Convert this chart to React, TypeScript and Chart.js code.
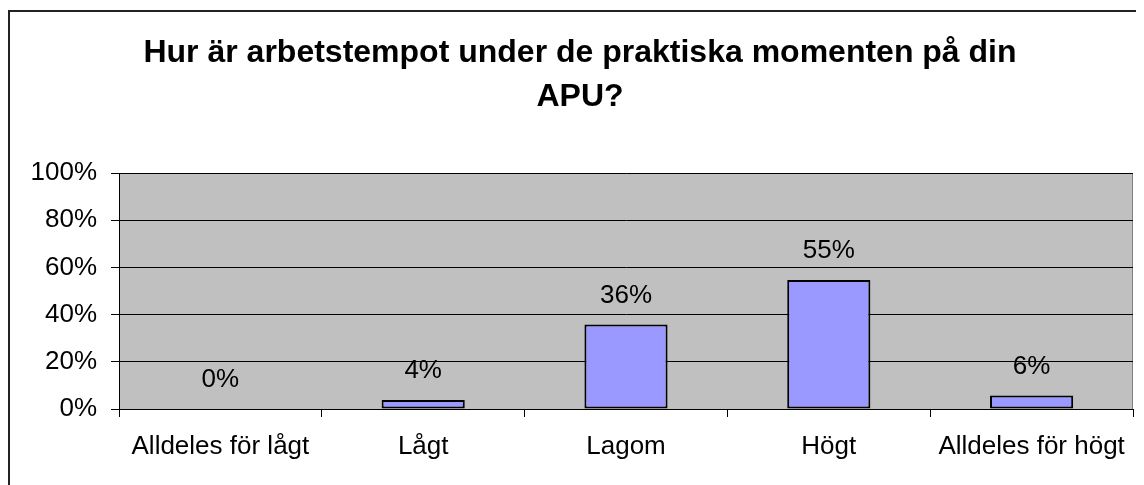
import React, { useEffect, useRef } from 'react';
import { Chart, registerables } from 'chart.js';

Chart.register(...registerables);

const TITLE_LINES = ['Hur är arbetstempot under de praktiska momenten på din', 'APU?'];
const CATEGORIES = ['Alldeles för lågt', 'Lågt', 'Lagom', 'Högt', 'Alldeles för högt'];
const VALUES = [0, 3.8, 35.8, 54.7, 5.7];
const VALUE_LABELS = ['0%', '4%', '36%', '55%', '6%'];
const Y_MIN = 0;
const Y_MAX = 100;
const Y_STEP = 20;

const FONT = "'Liberation Sans', Arial, Helvetica, sans-serif";

export default function App() {
  const canvasRef = useRef<HTMLCanvasElement | null>(null);

  useEffect(() => {
    document.documentElement.style.overflow = 'hidden';
    document.body.style.overflow = 'hidden';
    const canvas = canvasRef.current;
    if (!canvas) return;

    const plotBg = {
      id: 'plotBg',
      beforeDraw(chart: any) {
        const { ctx, chartArea } = chart;
        const { left, top, right, bottom } = chartArea;
        ctx.save();
        ctx.fillStyle = '#C0C0C0';
        ctx.fillRect(left, top, right - left, bottom - top);
        ctx.strokeStyle = '#808080';
        ctx.lineWidth = 1;
        ctx.strokeRect(Math.round(left) + 0.5, Math.round(top) + 0.5, Math.round(right - left) - 1, Math.round(bottom - top));
        ctx.restore();
      },
    };

    const valueLabels = {
      id: 'valueLabels',
      afterDatasetsDraw(chart: any) {
        const { ctx } = chart;
        const meta = chart.getDatasetMeta(0);
        ctx.save();
        ctx.fillStyle = '#000';
        ctx.font = `26px ${FONT}`;
        ctx.textAlign = 'center';
        ctx.textBaseline = 'middle';
        meta.data.forEach((bar: any, i: number) => {
          ctx.fillText(VALUE_LABELS[i], bar.x, bar.y - 29);
        });
        ctx.restore();
      },
    };

    const chart = new Chart(canvas, {
      type: 'bar',
      data: {
        labels: CATEGORIES,
        datasets: [
          {
            data: VALUES,
            backgroundColor: '#9999FF',
            borderColor: '#000000',
            borderWidth: 2,
            borderSkipped: false,
            barPercentage: 0.41,
            categoryPercentage: 1,
          },
        ],
      },
      options: {
        responsive: false,
        animation: false,
        devicePixelRatio: 1,
        layout: { padding: 0 },
        plugins: {
          legend: { display: false },
          tooltip: { enabled: false },
          title: {
            display: true,
            text: TITLE_LINES,
            color: '#000',
            font: { family: FONT, size: 32, weight: 'bold', lineHeight: '44px' },
            padding: { top: 23, bottom: 54 },
          },
        },
        scales: {
          x: {
            position: 'bottom',
            grid: {
              display: true,
              drawOnChartArea: false,
              drawTicks: true,
              tickLength: 8,
              color: '#000',
              offset: true,
            },
            border: { display: true, color: '#000', width: 1 },
            ticks: {
              color: '#000',
              font: { family: FONT, size: 26 },
              padding: 14,
              maxRotation: 0,
              autoSkip: false,
            },
            afterFit: (s: any) => {
              s.height = 76;
            },
          },
          y: {
            position: 'left',
            min: Y_MIN,
            max: Y_MAX,
            grid: {
              display: true,
              drawOnChartArea: true,
              drawTicks: true,
              tickLength: 8,
              color: '#000',
              lineWidth: 1,
            },
            border: { display: true, color: '#000', width: 1 },
            ticks: {
              stepSize: Y_STEP,
              color: '#000',
              font: { family: FONT, size: 26 },
              padding: 14,
              callback: (v: any) => `${v}%`,
            },
            afterFit: (s: any) => {
              s.width = 111;
            },
          },
          yRight: {
            type: 'linear',
            position: 'right',
            display: true,
            grid: { display: false, drawTicks: false },
            border: { display: false },
            ticks: { display: false },
            afterFit: (s: any) => {
              s.width = 19;
            },
          },
        },
      },
      plugins: [plotBg, valueLabels],
    } as any);

    return () => {
      chart.destroy();
    };
  }, []);

  return (
    <div style={{ position: 'relative', width: 1136, height: 477, overflow: 'hidden' }}>
      <div
        style={{
          position: 'absolute',
          left: 0,
          top: 2,
          width: 1400,
          height: 700,
          border: '2px solid #222',
          boxSizing: 'border-box',
        }}
      />
      <canvas
        ref={canvasRef}
        width={1144}
        height={477}
        style={{ position: 'absolute', left: 0, top: 0, display: 'block', width: 1144, height: 477 }}
      />
    </div>
  );
}
